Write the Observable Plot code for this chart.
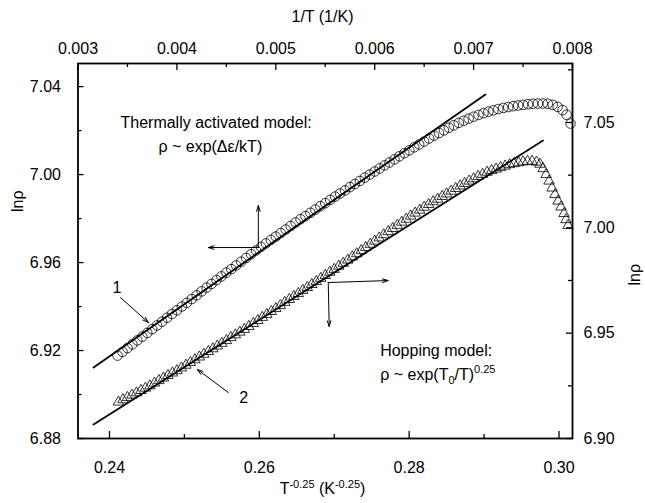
<!DOCTYPE html>
<html><head><meta charset="utf-8">
<script src="https://cdn.jsdelivr.net/npm/d3@7"></script>
<script src="https://cdn.jsdelivr.net/npm/@observablehq/plot@0.6"></script>
<style>
body{margin:0;background:#fff;font-family:"Liberation Sans",Arial,sans-serif;color:#000;}
#wrap{position:relative;width:645px;height:503px;overflow:hidden;}
#top{position:absolute;left:0;width:645px;top:7px;text-align:center;font-size:16px;line-height:20px;}
#chart{position:absolute;left:0;top:30px;}
#bot{position:absolute;left:0;width:645px;top:479px;text-align:center;font-size:16px;line-height:20px;}
#bot sup{font-size:11px;line-height:0;vertical-align:6px;}
</style></head><body>
<div id="wrap">
  <div id="top">1/T (1/K)</div>
  <div id="chart"></div>
  <div id="bot">T<sup>-0.25</sup> (K<sup>-0.25</sup>)</div>
</div>
<script>
// Series 1 (circles): lnρ vs 1/T (top axis, left lnρ axis)
const circleInvT = [0.00340,0.00345,0.00350,0.00355,0.00360,0.00365,0.00370,0.00375,0.00380,0.00385,0.00390,0.00395,0.00400,
  0.00405,0.00410,0.00415,0.00420,0.00425,0.00430,0.00435,0.00440,
  0.00445,0.00450,0.00455,0.00460,0.00465,0.00470,0.00475,0.00480,
  0.00485,0.00490,0.00495,0.00500,0.00505,0.00510,0.00515,0.00520,
  0.00525,0.00530,0.00535,0.00540,0.00545,0.00550,0.00555,0.00560,
  0.00565,0.00570,0.00575,0.00580,0.00585,0.00590,0.00595,0.00600,
  0.00605,0.00610,0.00615,0.00620,0.00625,0.00630,
  0.00635,0.00640,0.00645,0.00650,0.00655,0.00660,
  0.00665,0.00670,0.00675,0.00680,0.00685,0.00690,
  0.00695,0.00700,0.00705,0.00710,0.00715,0.00720,
  0.00725,0.00730,0.00735,0.00740,
  0.00745,0.00750,0.00755,0.00760,0.00765,0.00770,0.00775,0.00780,0.00785,0.00790,
  0.00794,0.00798];
const circleLnRho = [6.9177,6.9194,6.9211,6.9228,6.9246,6.9263,6.9280,6.9297,6.9314,6.9331,6.9349,6.9366,6.9383,
  6.9400,6.9417,6.9434,6.9451,6.9469,6.9486,6.9503,6.9520,
  6.9537,6.9554,6.9570,6.9587,6.9604,6.9621,6.9638,6.9655,
  6.9671,6.9687,6.9703,6.9718,6.9734,6.9750,6.9766,6.9782,
  6.9797,6.9811,6.9826,6.9841,6.9856,6.9870,6.9885,6.9900,
  6.9914,6.9928,6.9943,6.9957,6.9971,6.9986,7.0000,7.0014,
  7.0028,7.0042,7.0055,7.0069,7.0083,7.0097,
  7.0110,7.0124,7.0137,7.0150,7.0164,7.0177,
  7.0189,7.0201,7.0213,7.0224,7.0235,7.0245,
  7.0254,7.0263,7.0271,7.0279,7.0286,7.0292,
  7.0298,7.0303,7.0307,7.0311,
  7.0314,7.0317,7.0320,7.0322,7.0323,7.0323,7.0322,7.0317,7.0308,7.0293,
  7.0272,7.0232];

// Series 2 (triangles): lnρ vs T^-0.25 (bottom axis, right lnρ axis)
const triX = [0.2412,0.2418,0.2424,0.2430,0.2436,0.2442,0.2448,0.2454,
  0.2460,0.2466,0.2472,0.2478,0.2484,0.2490,
  0.2496,0.2502,0.2508,0.2514,0.2520,0.2526,0.2532,0.2538,
  0.2544,0.2550,0.2556,0.2562,0.2568,0.2574,0.2580,
  0.2586,0.2592,0.2598,0.2604,0.2610,0.2616,0.2622,0.2628,0.2634,0.2640,0.2646,0.2652,0.2658,0.2664,0.2670,
  0.2676,0.2682,0.2688,0.2694,0.2700,0.2706,0.2712,
  0.2718,0.2724,0.2730,0.2736,0.2742,0.2748,0.2754,0.2760,0.2766,0.2772,0.2778,0.2784,0.2790,0.2796,0.2802,
  0.2808,0.2814,0.2820,0.2826,0.2832,0.2838,0.2844,0.2850,
  0.2856,0.2862,0.2868,0.2874,0.2880,
  0.2886,0.2892,0.2898,0.2904,
  0.2910,0.2916,0.2922,0.2928,0.2934,
  0.2940,0.2946,0.2952,0.2958,0.2964,0.2970,
  0.29747,0.29787,0.29827,0.29867,0.29907,0.29947,0.29987,0.30027,0.30067,0.30093,0.3012];
const triLnRho = [6.9173,6.9184,6.9195,6.9206,6.9217,6.9228,6.9239,6.9250,
  6.9263,6.9275,6.9287,6.9299,6.9311,6.9322,
  6.9335,6.9348,6.9361,6.9374,6.9387,6.9400,6.9413,6.9426,
  6.9439,6.9452,6.9465,6.9479,6.9492,6.9505,6.9518,
  6.9532,6.9546,6.9560,6.9575,6.9589,6.9603,6.9617,6.9631,6.9646,6.9660,6.9674,6.9688,6.9703,6.9717,6.9731,
  6.9745,6.9760,6.9774,6.9789,6.9803,6.9818,6.9832,
  6.9847,6.9862,6.9877,6.9892,6.9907,6.9922,6.9937,6.9952,6.9967,6.9982,6.9997,7.0012,7.0027,7.0041,7.0056,
  7.0070,7.0084,7.0098,7.0111,7.0124,7.0136,7.0149,7.0161,
  7.0174,7.0187,7.0199,7.0211,7.0222,
  7.0233,7.0244,7.0254,7.0264,
  7.0272,7.0279,7.0286,7.0293,7.0300,
  7.0305,7.0309,7.0313,7.0316,7.0316,7.0312,
  7.0302,7.0281,7.0253,7.0222,7.0189,7.0158,7.0127,7.0099,7.0068,7.0039,7.0011];

// Fitted straight lines
const fit1InvT = [0.003157, 0.007120];   // thermally activated, vs 1/T
const fit1LnRho = [6.9123, 7.0364];
const fit2X = [0.23787, 0.29787];        // hopping, vs T^-0.25
const fit2LnRho = [6.9066, 7.0414];

// Axes
const bottomDomain = [0.2358, 0.3018];
const topDomain = [0.003, 0.008];
const leftDomain = [6.88, 7.0505];
const rightDomain = [6.90, 7.078];
const bottomTicks = [0.24, 0.26, 0.28, 0.30];
const bottomMinor = [0.25, 0.27, 0.29];
const topTicks = [0.003, 0.004, 0.005, 0.006, 0.007, 0.008];
const topMinor = [0.0035, 0.0045, 0.0055, 0.0065, 0.0075];
const leftTicks = [6.88, 6.92, 6.96, 7.00, 7.04];
const leftMinor = [6.90, 6.94, 6.98, 7.02];
const rightTicks = [6.90, 6.95, 7.00, 7.05];
const rightMinor = [6.925, 6.975, 7.025, 7.075];

// Annotations (in bottom-axis / left-axis units)
const labelTexts = ["Thermally activated model:", "ρ ~ exp(Δε/kT)", "Hopping model:", "ρ ~ exp(T0/T)0.25", "1", "2"];
const labelX = [0.24147, 0.24653, 0.27613, 0.27613, 0.2404, 0.25733];
const labelY = [7.02364, 7.01273, 6.9200, 6.90909, 6.94864, 6.89864];
const arrowX1 = [0.25987, 0.25987, 0.2692, 0.2692, 0.24147, 0.25587];
const arrowY1 = [6.96682, 6.96682, 6.95091, 6.95091, 6.94409, 6.90091];
const arrowX2 = [0.25987, 0.2532, 0.2772, 0.26933, 0.2452, 0.25173];
const arrowY2 = [6.98591, 6.96682, 6.95182, 6.93091, 6.93273, 6.91136];

const topToX = u => bottomDomain[0] + (u - topDomain[0]) / (topDomain[1] - topDomain[0]) * (bottomDomain[1] - bottomDomain[0]);
const xToTop = x => topDomain[0] + (x - bottomDomain[0]) / (bottomDomain[1] - bottomDomain[0]) * (topDomain[1] - topDomain[0]);
const rightToY = v => leftDomain[0] + (v - rightDomain[0]) / (rightDomain[1] - rightDomain[0]) * (leftDomain[1] - leftDomain[0]);
const yToRight = y => rightDomain[0] + (y - leftDomain[0]) / (leftDomain[1] - leftDomain[0]) * (rightDomain[1] - rightDomain[0]);

const circles = circleInvT.map((u, i) => ({x: topToX(u), y: circleLnRho[i]}));
const tris = triX.map((x, i) => ({x, y: rightToY(triLnRho[i])}));
const fit1 = fit1InvT.map((u, i) => ({x: topToX(u), y: fit1LnRho[i]}));
const fit2 = fit2X.map((x, i) => ({x, y: rightToY(fit2LnRho[i])}));
const labels = labelTexts.map((t, i) => ({t, x: labelX[i], y: labelY[i]}));
const arrows = arrowX1.map((x1, i) => ({x1, y1: arrowY1[i], x2: arrowX2[i], y2: arrowY2[i]}));

const W = 645, H = 445, ML = 77.5, MR = 73, MT = 33, MB = 37;
const FW = W - ML - MR, FH = H - MT - MB;
const FS = 16;
const TW = 1.3;
// tick lengths expressed in data units of the main scales
const xPerPx = (bottomDomain[1] - bottomDomain[0]) / FW;
const yPerPx = (leftDomain[1] - leftDomain[0]) / FH;
const [x0, x1] = bottomDomain, [y0, y1] = leftDomain;
const vt = (xs, len, atBottom) => Plot.ruleX(xs, {x: d => d,
  y1: atBottom ? y0 : y1, y2: atBottom ? y0 + len * yPerPx : y1 - len * yPerPx, stroke: "black", strokeWidth: TW});
const ht = (ys, len, atLeft) => Plot.ruleY(ys, {y: d => d,
  x1: atLeft ? x0 : x1, x2: atLeft ? x0 + len * xPerPx : x1 - len * xPerPx, stroke: "black", strokeWidth: TW});

const svg = Plot.plot({
  width: W, height: H,
  marginLeft: ML, marginRight: MR, marginTop: MT, marginBottom: MB,
  style: {fontFamily: '"Liberation Sans", Arial, sans-serif', fontSize: "16px", color: "black", background: "white"},
  x: {domain: bottomDomain, label: null},
  y: {domain: leftDomain, label: null},
  marks: [
    Plot.dot(circles, {x: "x", y: "y", r: 4.8, stroke: "black", strokeWidth: 0.8, fill: "none"}),
    Plot.dot(tris, {x: "x", y: "y", symbol: "triangle", r: 3.9, stroke: "black", strokeWidth: 0.8, fill: "none"}),
    Plot.line(fit1, {x: "x", y: "y", stroke: "black", strokeWidth: 1.8}),
    Plot.line(fit2, {x: "x", y: "y", stroke: "black", strokeWidth: 1.8}),
    Plot.arrow(arrows, {x1: "x1", y1: "y1", x2: "x2", y2: "y2", stroke: "black", strokeWidth: 1, headLength: 9, headAngle: 35}),
    Plot.text(labels, {x: "x", y: "y", text: "t", textAnchor: "start", fontSize: FS}),
    // inward tick marks
    vt(bottomTicks, 7, true), vt(bottomMinor, 4, true),
    vt(topTicks.map(topToX), 7, false), vt(topMinor.map(topToX), 4, false),
    ht(leftTicks, 6, true), ht(leftMinor, 4, true),
    ht(rightTicks.map(rightToY), 6, false), ht(rightMinor.map(rightToY), 4, false),
    Plot.frame({stroke: "black", strokeWidth: 1.8}),
    // tick labels
    Plot.axisX(bottomTicks, {anchor: "bottom", tickSize: 0, tickPadding: 23, tickFormat: d => d.toFixed(2), label: null, fontSize: FS}),
    Plot.axisX(topTicks.map(topToX), {anchor: "top", tickSize: 0, tickPadding: 10, tickFormat: d => xToTop(d).toFixed(3), label: null, fontSize: FS}),
    Plot.axisY(leftTicks, {anchor: "left", tickSize: 0, tickPadding: 17, tickFormat: d => d.toFixed(2), label: null, fontSize: FS}),
    Plot.axisY(rightTicks.map(rightToY), {anchor: "right", tickSize: 0, tickPadding: 11, tickFormat: d => yToRight(d).toFixed(2), label: null, fontSize: FS}),
    // axis titles
    Plot.text(["lnρ"], {frameAnchor: "left", text: d => d, rotate: -90, dx: -60, dy: -39, fontSize: FS}),
    Plot.text(["lnρ"], {frameAnchor: "right", text: d => d, rotate: -90, dx: 62, dy: 13, fontSize: FS})
  ]
});
document.getElementById("chart").appendChild(svg);

// sub/superscripts in the hopping formula
const NS = "http://www.w3.org/2000/svg";
d3.select(svg).selectAll("text").each(function() {
  if (this.textContent === "ρ ~ exp(T0/T)0.25") {
    while (this.firstChild) this.removeChild(this.firstChild);
    const parts = [["ρ ~ exp(T", null, null], ["0", 4, 11], ["/T)", -4, null], ["0.25", -7, 11]];
    for (const [s, dy, fs] of parts) {
      const t = document.createElementNS(NS, "tspan");
      t.textContent = s;
      if (dy != null) t.setAttribute("dy", dy);
      if (fs != null) t.setAttribute("font-size", fs);
      this.appendChild(t);
    }
  }
});
</script>
</body></html>
